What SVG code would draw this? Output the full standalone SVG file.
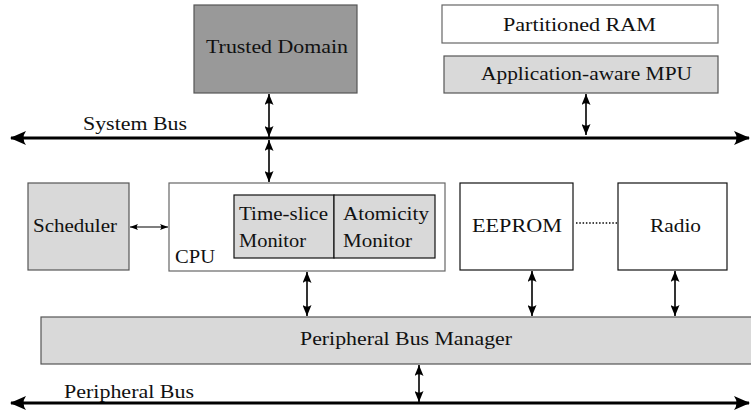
<svg xmlns="http://www.w3.org/2000/svg" width="751" height="413" viewBox="0 0 751 413">
<style>
text{font-family:'Liberation Serif','Times New Roman',Times,serif;font-size:19.5px;fill:#111}
.c{text-anchor:middle}
.dark{fill:#999999;stroke:#555;stroke-width:1.2}
.light{fill:#d9d9d9;stroke:#555;stroke-width:1.2}
.white{fill:#fff;stroke:#666;stroke-width:1.2}
.blk{fill:#fff;stroke:#111;stroke-width:1.2}
.bus{stroke:#000;stroke-width:3.2;fill:none;marker-start:url(#bh);marker-end:url(#bh)}
.link{stroke:#000;stroke-width:1.6;fill:none;marker-start:url(#sh);marker-end:url(#sh)}
.thin{stroke:#000;stroke-width:1.1;fill:none;marker-start:url(#th);marker-end:url(#th)}
</style>
<defs>
<marker id="bh" viewBox="0 0 16 14" refX="15" refY="7" markerWidth="16" markerHeight="14" markerUnits="userSpaceOnUse" orient="auto-start-reverse"><path d="M16,7 L0,0 Q5,7 0,14 Z" fill="#000"/></marker>
<marker id="sh" viewBox="0 0 11 9" refX="11" refY="4.5" markerWidth="11" markerHeight="9" markerUnits="userSpaceOnUse" orient="auto-start-reverse"><path d="M11,4.5 L0,0 Q3.5,4.5 0,9 Z" fill="#000"/></marker>
<marker id="th" viewBox="0 0 8 6" refX="8" refY="3" markerWidth="8" markerHeight="6" markerUnits="userSpaceOnUse" orient="auto-start-reverse"><path d="M8,3 L0,0 Q2.5,3 0,6 Z" fill="#000"/></marker>
</defs>
<g id="trusted-domain"><rect class="dark" x="194" y="5" width="163" height="88"/><text class="c" x="277" y="53" textLength="142" lengthAdjust="spacingAndGlyphs">Trusted Domain</text></g>
<g id="partitioned-ram"><rect class="white" x="442" y="5" width="276" height="38"/><text class="c" x="579.5" y="31" textLength="153" lengthAdjust="spacingAndGlyphs">Partitioned RAM</text></g>
<g id="mpu"><rect class="light" x="444" y="56" width="274" height="37"/><text class="c" x="586.5" y="80" textLength="211" lengthAdjust="spacingAndGlyphs">Application-aware MPU</text></g>
<g id="system-bus-label"><text x="83" y="130" textLength="104" lengthAdjust="spacingAndGlyphs">System Bus</text></g>
<g id="scheduler"><rect class="light" x="28" y="183" width="101" height="87"/><text class="c" x="75" y="232" textLength="84" lengthAdjust="spacingAndGlyphs">Scheduler</text></g>
<g id="cpu"><rect class="white" x="169" y="183" width="276" height="88"/><text x="175" y="263" textLength="40" lengthAdjust="spacingAndGlyphs">CPU</text></g>
<g id="time-slice-monitor"><rect class="light" x="234" y="195" width="100" height="63" style="stroke:#111"/><text x="239" y="220" textLength="89" lengthAdjust="spacingAndGlyphs">Time-slice</text><text x="239" y="247" textLength="67" lengthAdjust="spacingAndGlyphs">Monitor</text></g>
<g id="atomicity-monitor"><rect class="light" x="334" y="195" width="101" height="63" style="stroke:#111"/><text x="343" y="220" textLength="86" lengthAdjust="spacingAndGlyphs">Atomicity</text><text x="343" y="247" textLength="69" lengthAdjust="spacingAndGlyphs">Monitor</text></g>
<g id="eeprom"><rect class="blk" x="460" y="183" width="113" height="87"/><text class="c" x="517" y="232" textLength="90" lengthAdjust="spacingAndGlyphs">EEPROM</text></g>
<g id="radio"><rect class="blk" x="618" y="183" width="109" height="87"/><text class="c" x="675.5" y="232" textLength="51" lengthAdjust="spacingAndGlyphs">Radio</text></g>
<g id="peripheral-bus-manager"><rect class="light" x="41" y="317" width="712" height="47"/><text class="c" x="406" y="345" textLength="212" lengthAdjust="spacingAndGlyphs">Peripheral Bus Manager</text></g>
<g id="peripheral-bus-label"><text x="64" y="398" textLength="130" lengthAdjust="spacingAndGlyphs">Peripheral Bus</text></g>
<g id="connectors">
<line class="bus" x1="11" y1="138" x2="749" y2="138"/>
<line class="bus" x1="11" y1="403" x2="749" y2="403"/>
<line class="link" x1="269" y1="94" x2="269" y2="137"/>
<line class="link" x1="269" y1="140" x2="269" y2="182"/>
<line class="link" x1="586" y1="94" x2="586" y2="135"/>
<line class="thin" x1="130" y1="227" x2="168" y2="227"/>
<line x1="576" y1="223" x2="617" y2="223" stroke="#444" stroke-width="1.8" stroke-dasharray="1.5 1.8"/>
<line class="link" x1="307" y1="272" x2="307" y2="316"/>
<line class="link" x1="532" y1="271" x2="532" y2="316"/>
<line class="link" x1="675" y1="271" x2="675" y2="316"/>
<line class="link" x1="419" y1="365" x2="419" y2="402"/>
</g>
</svg>
